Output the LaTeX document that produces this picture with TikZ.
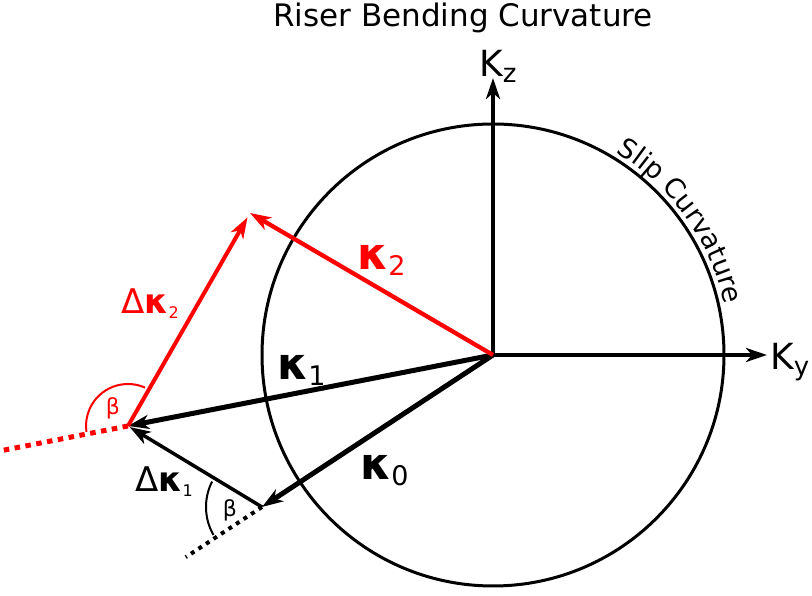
\documentclass[tikz,border=0pt]{standalone}
\usepackage{fontspec}
\setmainfont{DejaVu Sans}
\usetikzlibrary{arrows.meta, calc, decorations.text}
\tikzset{>={Stealth[length=21pt, width=14pt, inset=6pt]},
  axis/.style={->, line width=4.5pt},
  vec/.style={->, line width=5pt},
  delta/.style={->, line width=3.5pt, shorten >=2pt},
  ext/.style={line width=5pt, dash pattern=on 5.5pt off 5.5pt},
  ang/.style={line width=2pt},
  lab/.style={anchor=base west, inner sep=0pt}}
\newcommand{\kap}[1]{{\fontsize{44}{44}\selectfont\bfseries κ}\raisebox{-6pt}{\fontsize{27}{27}\selectfont #1}}
\newcommand{\dkap}[1]{{\fontsize{34}{34}\selectfont Δ\bfseries κ}\raisebox{-5pt}{\fontsize{16}{16}\selectfont #1}}
\newcommand{\kax}[1]{{\fontsize{36}{36}\selectfont K}\raisebox{-6pt}{\fontsize{26}{26}\selectfont #1}}

\begin{document}
\begin{tikzpicture}[x=1pt, y=1pt]
    \useasboundingbox (0,0) rectangle (812,596);
    \coordinate (O) at (493,241);
    \coordinate (kz) at (493,518);
    \coordinate (ky) at (767,241);
    \coordinate (k0) at (262,89);
    \coordinate (k1) at (128,170);
    \coordinate (k2) at (250,383);
    \draw[line width=3pt] (O) circle[radius=231];
    \path[decorate, decoration={text along path, text align=center,
        text={|\fontsize{27}{27}\selectfont|Slip Curvature}}]
        ([shift={(61:237)}]O) arc[start angle=61, end angle=10, radius=237];
    \draw[axis] (O) -- (kz);
    \draw[axis] (O) -- (ky);
    \draw[ext, red] (k1) -- ($(O)!1.35!(k1)$);
    \draw[ext, line width=4pt, dash pattern=on 4pt off 5pt] (k0) -- ($(O)!1.33!(k0)$);
    \draw[vec] (O) -- (k1);
    \draw[vec] (O) -- (k0);
    \draw[vec, red, line width=4.3pt] (O) -- (k2);
    \draw[delta] (k0) -- (k1);
    \draw[delta, red, line width=4pt, shorten >=5pt] (k1) -- (k2);
    \draw[ang, red] ([shift={(66:42)}]k1) arc[start angle=66, end angle=188, radius=42];
    \draw[ang] ([shift={(153:56)}]k0) arc[start angle=153, end angle=210, radius=56];
    \node[anchor=base] (title) at (463,569) {\fontsize{31}{31}\selectfont Riser Bending Curvature};
    \node[lab] (lkz) at (479,519) {\kax{z}};
    \node[lab] (lky) at (770,226) {\kax{y}};
    \node[lab, red] (lk2) at (357,326) {\kap{2}};
    \node[lab] (lk1) at (277,216) {\kap{1}};
    \node[lab] (lk0) at (360,116) {\kap{0}};
    \node[lab, red] (ldk2) at (121,282) {\dkap{2}};
    \node[lab] (ldk1) at (135,104) {\dkap{1}};
    \node[red] (b2) at (113,188) {\fontsize{22}{22}\selectfont β};
    \node (b1) at (230,86) {\fontsize{22}{22}\selectfont β};
\end{tikzpicture}
\end{document}
